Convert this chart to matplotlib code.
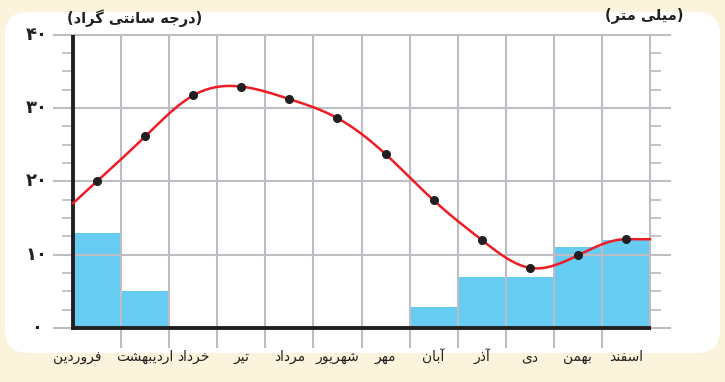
import numpy as np
import matplotlib
matplotlib.use('Agg')
import matplotlib.pyplot as plt
from matplotlib.patches import FancyBboxPatch

# data
months = ['فروردین', 'اردیبهشت', 'خرداد', 'تیر', 'مرداد', 'شهریور',
          'مهر', 'آبان', 'آذر', 'دی', 'بهمن', 'اسفند']
rain = [13, 5, 0, 0, 0, 0, 0, 2.8, 7, 7, 11, 12]
temp = [20, 26.1, 31.7, 32.9, 31.2, 28.6, 23.7, 17.4, 12, 8.2, 9.9, 12.1]
y_ticks = [0, 10, 20, 30, 40]
y_labels = ['۰', '۱۰', '۲۰', '۳۰', '۴۰']
temp_unit = 'درجه سانتی گراد'
rain_unit = 'میلی متر'

# arabic presentation forms: isolated, final, initial, medial
FORMS = {
    'ا': ('\uFE8D', '\uFE8E', None, None),
    'آ': ('\uFE81', '\uFE82', None, None),
    'ب': ('\uFE8F', '\uFE90', '\uFE91', '\uFE92'),
    'ت': ('\uFE95', '\uFE96', '\uFE97', '\uFE98'),
    'ج': ('\uFE9D', '\uFE9E', '\uFE9F', '\uFEA0'),
    'خ': ('\uFEA5', '\uFEA6', '\uFEA7', '\uFEA8'),
    'د': ('\uFEA9', '\uFEAA', None, None),
    'ذ': ('\uFEAB', '\uFEAC', None, None),
    'ر': ('\uFEAD', '\uFEAE', None, None),
    'س': ('\uFEB1', '\uFEB2', '\uFEB3', '\uFEB4'),
    'ش': ('\uFEB5', '\uFEB6', '\uFEB7', '\uFEB8'),
    'ف': ('\uFED1', '\uFED2', '\uFED3', '\uFED4'),
    'ل': ('\uFEDD', '\uFEDE', '\uFEDF', '\uFEE0'),
    'م': ('\uFEE1', '\uFEE2', '\uFEE3', '\uFEE4'),
    'ن': ('\uFEE5', '\uFEE6', '\uFEE7', '\uFEE8'),
    'ه': ('\uFEE9', '\uFEEA', '\uFEEB', '\uFEEC'),
    'و': ('\uFEED', '\uFEEE', None, None),
    'ی': ('\uFBFC', '\uFBFD', '\uFBFE', '\uFBFF'),
    'گ': ('\uFB92', '\uFB93', '\uFB94', '\uFB95'),
}


def shape(text):
    out = []
    for i, c in enumerate(text):
        if c not in FORMS:
            out.append(c)
            continue
        iso, fin, ini, med = FORMS[c]
        prev = text[i - 1] if i > 0 else ''
        nxt = text[i + 1] if i + 1 < len(text) else ''
        join_prev = prev in FORMS and FORMS[prev][2] is not None
        join_next = nxt in FORMS and ini is not None
        if join_prev and join_next:
            out.append(med)
        elif join_prev:
            out.append(fin)
        elif join_next:
            out.append(ini)
        else:
            out.append(iso)
    return ''.join(out)[::-1]


def smooth_curve(x, y, xs):
    # cubic spline: natural at the left end, flat at the right end
    x = np.asarray(x, float)
    y = np.asarray(y, float)
    n = len(x)
    h = np.diff(x)
    A = np.zeros((n, n))
    b = np.zeros(n)
    A[0, 0] = 1
    for i in range(1, n - 1):
        A[i, i - 1] = h[i - 1]
        A[i, i] = 2 * (h[i - 1] + h[i])
        A[i, i + 1] = h[i]
        b[i] = 6 * ((y[i + 1] - y[i]) / h[i] - (y[i] - y[i - 1]) / h[i - 1])
    A[-1, -2] = h[-1]
    A[-1, -1] = 2 * h[-1]
    b[-1] = -6 * (y[-1] - y[-2]) / h[-1]
    M = np.linalg.solve(A, b)
    k = np.clip(np.searchsorted(x, xs) - 1, 0, n - 2)
    t = xs - x[k]
    hk = h[k]
    a = (M[k + 1] - M[k]) / (6 * hk)
    bb = M[k] / 2
    c = (y[k + 1] - y[k]) / hk - hk * (2 * M[k] + M[k + 1]) / 6
    ys = y[k] + c * t + bb * t ** 2 + a * t ** 3
    return np.where(xs > x[-1], y[-1], ys)


W, H = 725, 382
fig = plt.figure(figsize=(W / 100, H / 100), dpi=100)
fig.patch.set_facecolor('#fcf3dc')

panel = FancyBboxPatch((0.05, 0.29), 7.15, 3.41,
                       boxstyle='round,pad=0,rounding_size=0.23',
                       transform=fig.dpi_scale_trans,
                       facecolor='white', edgecolor='none', zorder=-5)
fig.add_artist(panel)

ax = fig.add_axes([73 / W, (H - 328) / H, 577 / W, (328 - 34.5) / H])
ax.set_xlim(0, 12)
ax.set_ylim(0, 40)
ax.axis('off')

xc = np.arange(12) + 0.5
grid = '#bdbdc3'

ax.bar(xc, rain, width=1, color='#66ccf2', zorder=1)

for v in y_ticks:
    ax.plot([-0.4, 12.42], [v, v], color=grid, lw=1.5, clip_on=False, zorder=2)
for v in np.arange(2.5, 40, 2.5):
    if v % 10:
        ax.plot([-0.21, 0], [v, v], color=grid, lw=1.3, clip_on=False, zorder=2)
        ax.plot([12, 12.21], [v, v], color=grid, lw=1.3, clip_on=False, zorder=2)
for i in range(1, 12):
    ax.plot([i, i], [-2.6, 40], color=grid, lw=1.5, clip_on=False, zorder=2)
ax.plot([12, 12], [0, 40], color=grid, lw=1.5, clip_on=False, zorder=2)

ax.plot([0, 0], [-0.25, 40], color='#231f20', lw=2.8, clip_on=False,
        solid_capstyle='butt', zorder=3)
ax.plot([0, 12.03], [0, 0], color='#231f20', lw=2.8, clip_on=False,
        solid_capstyle='butt', zorder=3)

xs = np.linspace(0, 12, 400)
ax.plot(xs, smooth_curve(xc, temp, xs), color='#ee1c25', lw=1.8,
        clip_on=False, zorder=4)
ax.plot(xc, temp, 'o', color='#231f20', ms=5.5, clip_on=False, zorder=5)

for v, lab in zip(y_ticks, y_labels):
    ax.text(-0.75, v, lab, ha='center', va='center', fontsize=13,
            fontweight='bold', color='#231f20')

for i, m in enumerate(months):
    # the first label sits left of its month so it does not run into the second
    if i == 0:
        ax.text(xc[i] + 0.1, -3.95, shape(m), ha='right', va='center',
                fontsize=10, color='#231f20')
    else:
        ax.text(xc[i], -3.95, shape(m), ha='center', va='center',
                fontsize=10, color='#231f20')

fig.text(135 / W, 1 - 18 / H, '(' + shape(temp_unit) + ')', ha='center',
         va='center', fontsize=10.5, fontweight='bold', color='#231f20')
fig.text(644 / W, 1 - 15 / H, '(' + shape(rain_unit) + ')', ha='center',
         va='center', fontsize=10.5, fontweight='bold', color='#231f20')

fig.savefig('out.png', dpi=100, facecolor=fig.get_facecolor())
